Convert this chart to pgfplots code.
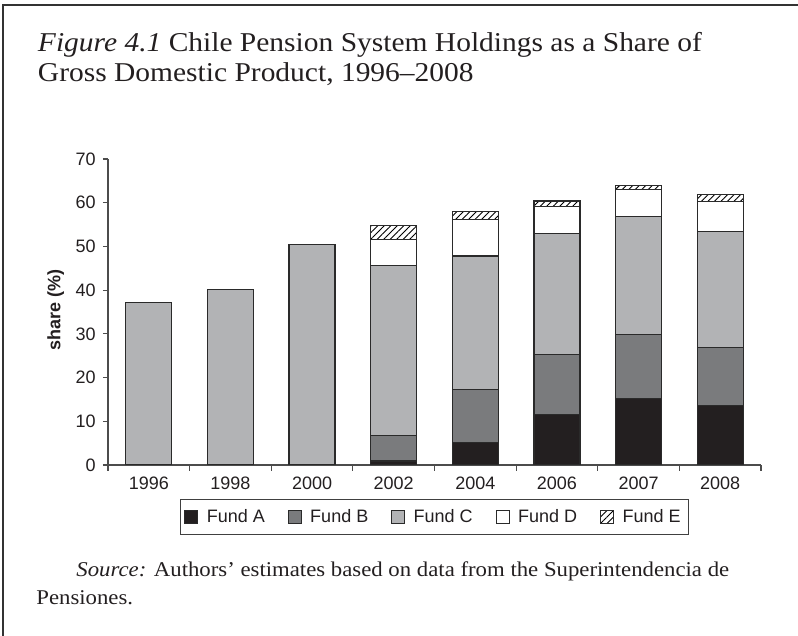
\documentclass[border=0pt]{standalone}
\usepackage{fontspec}
\setmainfont{Liberation Serif}[FakeStretch=1.084]
\setsansfont{Liberation Sans}
\usepackage{pgfplots}
\pgfplotsset{compat=1.18}
\usetikzlibrary{patterns.meta}

\definecolor{fundA}{HTML}{231F20}
\definecolor{fundB}{HTML}{7A7B7D}
\definecolor{fundC}{HTML}{B2B3B5}
\definecolor{edge}{HTML}{2A2A2A}
\definecolor{ink}{HTML}{231F20}

\begin{document}
\begin{tikzpicture}[x=1pt,y=1pt]
\useasboundingbox (0,0) rectangle (399,318);
\draw[line width=1pt, black!80] (1.35,0) -- (1.35,315.5) -- (399,315.5);
\node[anchor=base west, inner sep=0, text=ink, font=\fontsize{13.6}{15}\selectfont] at (18.8,292.2) {\textit{Figure 4.1} Chile Pension System Holdings as a Share of};
\node[anchor=base west, inner sep=0, text=ink, font=\fontsize{13.6}{15}\selectfont] at (18.8,277) {Gross Domestic Product, 1996--2008};
\node[anchor=base west, inner sep=0, text=ink, font=\fontsize{10.5}{12}\selectfont] at (38,29.5) {\textit{Source:} Authors' estimates based on data from the Superintendencia de};
\node[anchor=base west, inner sep=0, text=ink, font=\fontsize{10.5}{12}\selectfont] at (18,15.5) {Pensiones.};

\begin{axis}[
  at={(54pt,85.5pt)}, anchor=south west,
  scale only axis, width=326.5pt, height=153pt,
  ybar stacked, bar width=0.564,
  xmin=-0.5, xmax=7.5, ymin=0, ymax=70,
  xtick={0,...,7},
  xticklabels={1996,1998,2000,2002,2004,2006,2007,2008},
  minor xtick={-0.5,0.5,...,7.5},
  ytick={0,10,...,70},
  major x tick style={draw=none},
  tick align=outside, major tick length=2.6pt, minor tick length=3pt,
  tick style={black!70, line width=0.6pt},
  axis x line*=bottom, axis y line*=left,
  axis line style={black!70, line width=0.6pt},
  /pgf/number format/assume math mode=true,
  ticklabel style={font=\sffamily\fontsize{9}{10}\selectfont, text=ink},
  ylabel={\textbf{share (\%)}},
  ylabel style={font=\sffamily\fontsize{9}{10}\selectfont, text=ink, at={(axis description cs:-0.080,0.508)}, anchor=center},
  legend columns=-1,
  legend style={at={(0.5,-0.170)}, anchor=center, draw=black!75, line width=0.6pt,
    font=\sffamily\fontsize{9}{10}\selectfont, text=ink, inner xsep=2pt, inner ysep=2.6pt,
    /tikz/every odd column/.append style={column sep=2.2pt},
    /tikz/every even column/.append style={column sep=9.5pt}},
  legend image code/.code={\draw[#1, line width=0.5pt] (0pt,-3.25pt) rectangle (6.5pt,3.25pt);},
  every axis plot/.append style={draw=edge, line width=0.6pt},
]
\addplot[fill=fundA] coordinates {(0,0) (1,0) (2,0) (3,0.9) (4,5.2) (5,11.5) (6,15.2) (7,13.6)};
\addplot[fill=fundB] coordinates {(0,0) (1,0) (2,0) (3,5.9) (4,12.0) (5,13.8) (6,14.6) (7,13.2)};
\addplot[fill=fundC] coordinates {(0,37.2) (1,40.2) (2,50.4) (3,38.9) (4,30.6) (5,27.6) (6,27.0) (7,26.7)};
\addplot[fill=white] coordinates {(0,0) (1,0) (2,0) (3,5.8) (4,8.3) (5,6.3) (6,6.3) (7,6.7)};
\addplot[fill=white, postaction={pattern={Lines[angle=45,distance=2.3pt,line width=0.45pt]}, pattern color=black}] coordinates {(0,0) (1,0) (2,0) (3,3.3) (4,1.9) (5,1.2) (6,0.9) (7,1.7)};
\legend{Fund A, Fund B, Fund C, Fund D, Fund E}
\end{axis}
\end{tikzpicture}
\end{document}
